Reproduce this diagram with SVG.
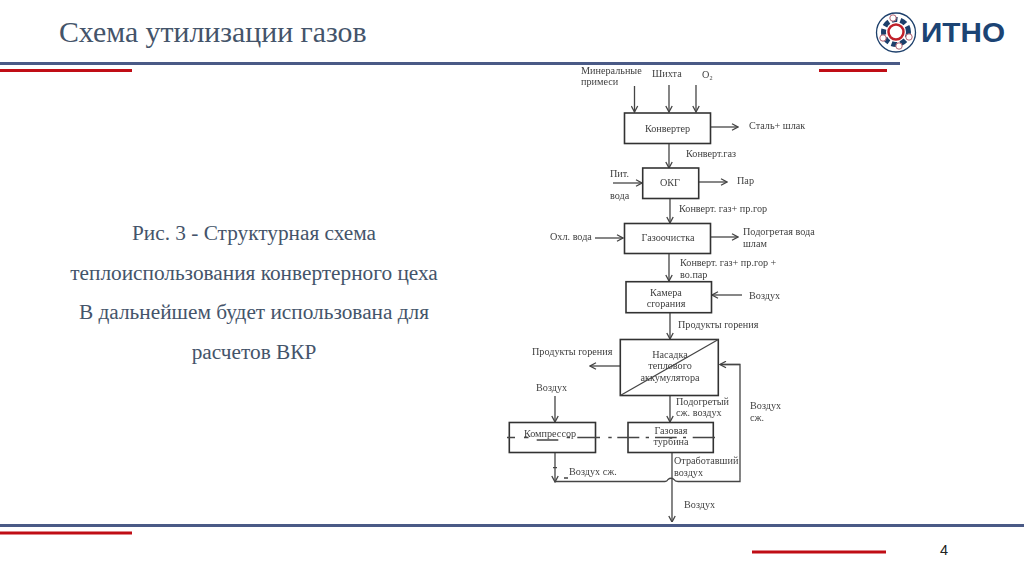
<svg xmlns="http://www.w3.org/2000/svg" width="1024" height="574" viewBox="0 0 1024 574">
<style>
.t{font-family:"Liberation Serif","Times New Roman",serif;fill:#3f3f3f;font-size:10.2px}
.m{text-anchor:middle}
.body{font-family:"Liberation Serif","Times New Roman",serif;fill:#44546a;font-size:21.3px;text-anchor:middle}
.box{fill:#fff;stroke:#333;stroke-width:1.6}
.c{fill:none;stroke:#444;stroke-width:1.3}
.a{fill:none;stroke:#444;stroke-width:1.3;marker-end:url(#arr)}
.rule{stroke:#4a5a86;stroke-width:3}
.red{stroke:#c00d15;stroke-width:3}
</style>
<defs>
<marker id="arr" markerWidth="8" markerHeight="8" refX="7" refY="4" orient="auto" markerUnits="userSpaceOnUse"><path d="M1 0.8L7 4L1 7.2" fill="none" stroke="#444" stroke-width="1.3"/></marker>
<filter id="soft" x="0" y="0" width="1" height="1"><feGaussianBlur stdDeviation="0.35"/></filter>
</defs>
<rect width="1024" height="574" fill="#fff"/>
<g id="frame">
<line class="rule" x1="0" y1="63.500" x2="900" y2="63.500"/>
<line class="red" x1="0" y1="70.500" x2="132" y2="70.500"/>
<line class="red" x1="819" y1="70.500" x2="887" y2="70.500"/>
<rect x="508" y="65" width="311" height="459" fill="#fff"/>
<line class="rule" x1="0" y1="525.500" x2="1024" y2="525.500"/>
<line class="red" x1="0" y1="533" x2="132" y2="533"/>
<line class="red" x1="752" y1="552" x2="886" y2="552"/>
<text x="944" y="555" font-family="'Liberation Sans',Arial,sans-serif" font-size="14.500" fill="#222" text-anchor="middle">4</text>
</g>
<g id="title"><text x="59" y="42" font-family="'Liberation Serif','Times New Roman',serif" font-size="29.800" fill="#44546a">Схема утилизации газов</text></g>
<g id="caption">
<text class="body" x="254" y="240">Рис. 3 - Структурная схема</text>
<text class="body" x="254" y="280">теплоиспользования конвертерного цеха</text>
<text class="body" x="254" y="319">В дальнейшем будет использована для</text>
<text class="body" x="254" y="359">расчетов ВКР</text>
</g>
<g id="logo">
<circle cx="896" cy="32.500" r="19.500" fill="#fff" stroke="#1c3f6b" stroke-width="1.300"/>
<circle cx="896" cy="32" r="12.500" fill="none" stroke="#1c3f6b" stroke-width="5" stroke-dasharray="6 3"/>
<circle cx="896" cy="32" r="7.500" fill="#fff" stroke="#c0202a" stroke-width="2.500"/>
<circle cx="893" cy="18" r="3.200" fill="#fff" stroke="#b06070"/>
<circle cx="909" cy="37" r="3.200" fill="#fff" stroke="#b06070"/>
<circle cx="899" cy="46" r="3.200" fill="#fff" stroke="#b06070"/>
<circle cx="883" cy="38" r="3.200" fill="#fff" stroke="#b06070"/>
<text x="921" y="42" font-family="'Liberation Sans',Arial,sans-serif" font-weight="700" font-size="27" fill="#1c4474" textLength="84" lengthAdjust="spacingAndGlyphs">ИТНО</text>
</g>
<g id="diagram" filter="url(#soft)">
<g id="connectors">
<path class="a" d="M634.500 86V112"/>
<path class="a" d="M669 85V112"/>
<path class="a" d="M696 85V112"/>
<path class="a" d="M711 127H738"/>
<path class="a" d="M669 143V168"/>
<path class="a" d="M613 183H642"/>
<path class="a" d="M699 182H727"/>
<path class="a" d="M670 198V223"/>
<path class="a" d="M595 238H623"/>
<path class="a" d="M711 237H738"/>
<path class="a" d="M669 254V281"/>
<path class="a" d="M742 295H712"/>
<path class="a" d="M670 313V339"/>
<path class="a" d="M620 366H590"/>
<path class="a" d="M670 396V422"/>
<path class="a" d="M555 396V422"/>
<path class="a" d="M555 453V482"/>
<path class="c" d="M553 467.700H557M564 478H568"/>
<path class="c" d="M555 481.500H665Q667 481.500 668 479.500Q671 477 674 479.500Q675 481.500 678 481.500H740V364.500H721"/>
<path class="a" d="M740 364.500H720"/>
<path class="a" d="M672 453V522"/>
</g>
<g id="konverter"><rect class="box" x="624.500" y="113" width="86" height="30.500"/><text class="t m" x="667.500" y="132">Конвертер</text></g>
<g id="okg"><rect class="box" x="642.700" y="168" width="56" height="30.500"/><text class="t m" x="670" y="186">ОКГ</text></g>
<g id="gazoochistka"><rect class="box" x="624.500" y="223.500" width="86" height="30"/><text class="t m" x="668" y="241">Газоочистка</text></g>
<g id="kamera"><rect class="box" x="626" y="281.700" width="85.500" height="31"/><text class="t m" x="666" y="296">Камера</text><text class="t m" x="666" y="307">сгорания</text></g>
<g id="nasadka"><rect class="box" x="620.300" y="339.500" width="98" height="56"/><text class="t m" x="670" y="358">Насадка</text><text class="t m" x="670" y="369">теплового</text><text class="t m" x="670" y="381">аккумулятора</text><path class="c" d="M620.300 395.500L718.300 339.500"/></g>
<g id="kompressor"><rect class="box" x="509.300" y="422.500" width="86.200" height="30"/><text class="t m" x="550" y="437">Компрессор</text></g>
<g id="turbina"><rect class="box" x="628" y="422.500" width="85.300" height="30"/><text class="t m" x="671" y="434">Газовая</text><text class="t m" x="671" y="445">турбина</text></g>
<g id="shaft"><path class="c" d="M507 437.500H515M524 437.500H528.500M536.700 440H558.300M566.700 437.500H570M577.300 437.500H600M608.300 437.500H611.700M617.300 437.500H639.300M645.700 437.500H649M655 437.500H676.700M683 437.500H686M692.700 437.500H715"/></g>
<g id="labels">
<text class="t" x="581" y="74">Минеральные</text>
<text class="t" x="581" y="85">примеси</text>
<text class="t" x="652" y="77">Шихта</text>
<text class="t" x="702" y="78">O₂</text>
<text class="t" x="749" y="129">Сталь+ шлак</text>
<text class="t" x="686" y="157">Конверт.газ</text>
<text class="t" x="610" y="177">Пит.</text>
<text class="t" x="610" y="199">вода</text>
<text class="t" x="737" y="184">Пар</text>
<text class="t" x="679" y="212">Конверт. газ+ пр.гор</text>
<text class="t" x="550" y="240">Охл. вода</text>
<text class="t" x="743" y="235">Подогретая вода</text>
<text class="t" x="743" y="247">шлам</text>
<text class="t" x="680" y="266">Конверт. газ+ пр.гор +</text>
<text class="t" x="680" y="278">во.пар</text>
<text class="t" x="749" y="299">Воздух</text>
<text class="t" x="678" y="328">Продукты горения</text>
<text class="t" x="532" y="355">Продукты горения</text>
<text class="t" x="536" y="391">Воздух</text>
<text class="t" x="676" y="405">Подогретый</text>
<text class="t" x="676" y="416">сж. воздух</text>
<text class="t" x="750" y="409">Воздух</text>
<text class="t" x="750" y="421">сж.</text>
<text class="t" x="674" y="464">Отработавший</text>
<text class="t" x="674" y="476">воздух</text>
<text class="t" x="569" y="475">Воздух сж.</text>
<text class="t" x="684" y="508">Воздух</text>
</g>
</g>
</svg>
